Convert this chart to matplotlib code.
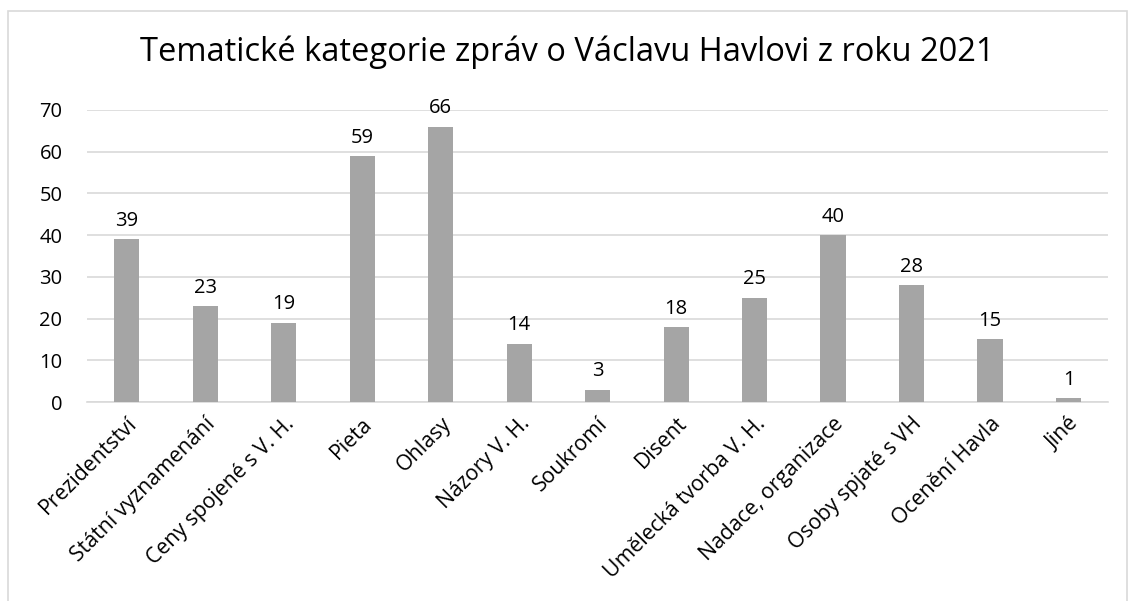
import matplotlib
matplotlib.use('Agg')
import matplotlib.pyplot as plt
from matplotlib.patches import Rectangle

categories = ['Prezidentství', 'Státní vyznamenání', 'Ceny spojené s V. H.', 'Pieta', 'Ohlasy',
              'Názory V. H.', 'Soukromí', 'Disent', 'Umělecká tvorba V. H.', 'Nadace, organizace',
              'Osoby spjaté s VH', 'Ocenění Havla', 'Jiné']
counts = [39, 23, 19, 59, 66, 14, 3, 18, 25, 40, 28, 15, 1]
yticks = [0, 10, 20, 30, 40, 50, 60, 70]

plt.rcParams['font.family'] = ['Open Sans', 'DejaVu Sans']

fig = plt.figure(figsize=(11.35, 6.01), dpi=100)
# chart border (bottom edge falls off the image like in the original)
fig.patches.append(Rectangle((8/1135, -5/601), 1119/1135, 595/601, transform=fig.transFigure,
                             fill=False, edgecolor='#d9d9d9', linewidth=1.2))

ax = fig.add_axes([0.077, 0.331, 0.899, 0.486])
x = range(len(categories))
bars = ax.bar(x, counts, width=0.32, color='#a5a5a5', zorder=3)
for xi, v in zip(x, counts):
    ax.text(xi, v + 2.0, str(v), ha='center', va='bottom', fontsize=14.5, color='#000000')

ax.set_ylim(0, 70)
ax.set_xlim(-0.5, len(categories) - 0.5)
ax.set_yticks(yticks)
ax.set_yticklabels([str(t) for t in yticks], fontsize=14.5)
ax.set_xticks(list(x))
ax.set_xticklabels(categories, rotation=45, ha='right', rotation_mode='anchor', fontsize=15.3)
ax.grid(axis='y', color='#d9d9d9', linewidth=1.2, zorder=0)
for s in ['top', 'right', 'left']:
    ax.spines[s].set_visible(False)
ax.spines['bottom'].set_color('#d9d9d9')
ax.spines['bottom'].set_linewidth(1.2)
ax.tick_params(axis='both', length=0)
ax.tick_params(axis='y', pad=18)
ax.tick_params(axis='x', pad=8)

fig.text(0.5, 0.913, 'Tematické kategorie zpráv o Václavu Havlovi z roku 2021', ha='center', va='center',
         fontsize=23.5, color='#000000')

fig.savefig('out.png', dpi=100)
